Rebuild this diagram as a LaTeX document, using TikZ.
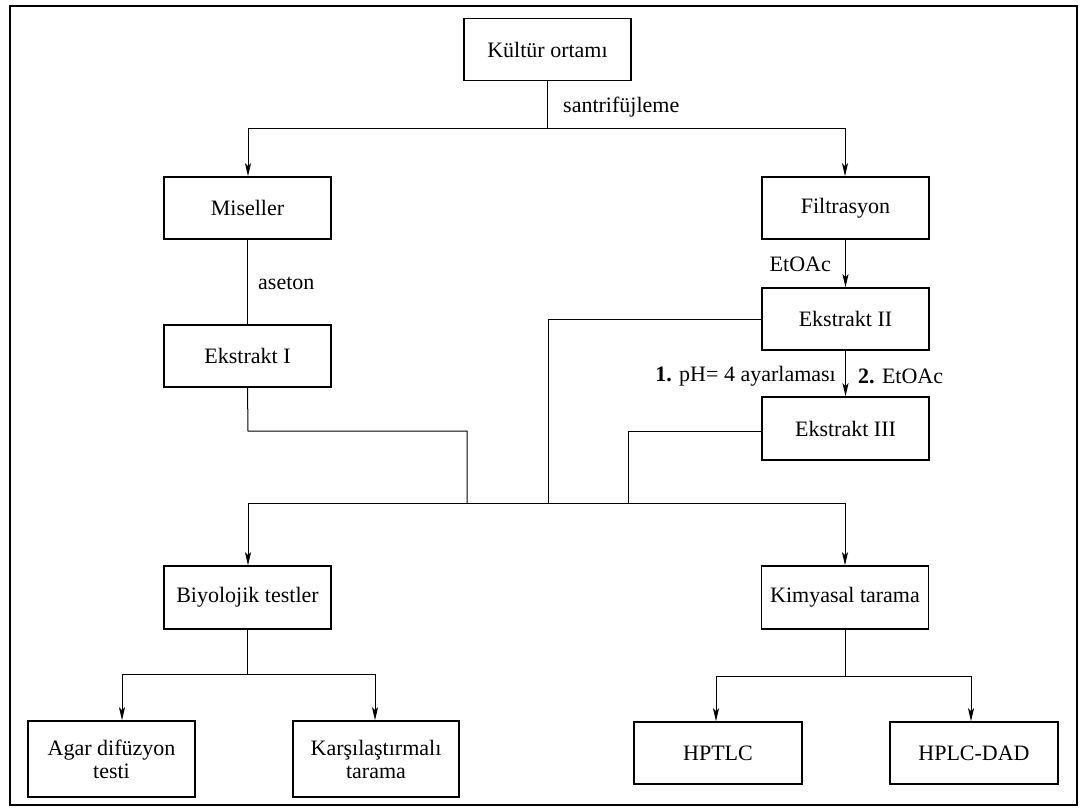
\documentclass[tikz,border=0pt]{standalone}
\usepackage{fontspec}
\setmainfont{Liberation Serif}
\usetikzlibrary{arrows.meta}
\begin{document}
\begin{tikzpicture}[x=1pt,y=-1pt,
  box/.style={draw,line width=1.5pt,minimum width=167pt,minimum height=62pt,
    inner sep=0pt,align=center,font=\fontsize{22}{23}\selectfont},
  lbl/.style={inner sep=0pt,font=\fontsize{22}{24}\selectfont},
  conn/.style={line width=1pt},
  arr/.style={conn,-{Stealth[length=13pt,width=6pt,inset=3pt]}}]
\useasboundingbox (0,0) rectangle (1086,809);
\draw[line width=2pt] (10,6) rectangle (1077,805);

% boxes
\node[box] (kultur) at (547.5,49.5) {Kültür ortamı};
\node[box] (misel) at (247.5,208) {Miseller};
\node[box] (filt) at (845.5,208) {Filtrasyon};
\node[box] (ek1) at (247.5,356) {Ekstrakt I};
\node[box] (ek2) at (845.5,319) {Ekstrakt II};
\node[box,minimum height=63pt] (ek3) at (845.5,428.5) {Ekstrakt III};
\node[box,minimum height=63pt] (bio) at (247.5,597.5) {Biyolojik testler};
\node[box,minimum height=63pt] (kim) at (845,597.5) {Kimyasal tarama};
\node[box,minimum height=76pt] (agar) at (111.5,759) {Agar difüzyon\\testi};
\node[box,minimum width=166pt,minimum height=76pt] (kars) at (376,759) {Karşılaştırmalı\\tarama};
\node[box,minimum width=168pt] (hptlc) at (718,753) {HPTLC};
\node[box,minimum width=168pt] (hplc) at (974,753) {HPLC-DAD};

% junction points
\coordinate (s1) at (547.5,128);
\coordinate (sL) at (248,128);
\coordinate (sR) at (845,128);
\coordinate (e1a) at (248,431);
\coordinate (e1b) at (467,431);
\coordinate (e2a) at (548,319);
\coordinate (e3a) at (628,431);
\coordinate (mL) at (248,503);
\coordinate (mR) at (845,503);
\coordinate (bL) at (122,674);
\coordinate (bR) at (375,674);
\coordinate (kL) at (716,676);
\coordinate (kR) at (971,676);

% centrifugation split
\draw[conn] (kultur.south) -- (s1);
\draw[conn] (sL) -- (sR);
\draw[arr] (sL) -- (sL |- misel.north);
\draw[arr] (sR) -- (sR |- filt.north);
\node[lbl,anchor=west] (santri) at (563,107) {santrifüjleme};

% left branch
\draw[conn] (misel.south) -- (ek1.north);
\node[lbl,anchor=west] (aseton) at (258,283) {aseton};

% right branch
\draw[arr] (filt.south) -- (ek2.north);
\node[lbl,anchor=east] (etoac1) at (831,264) {EtOAc};
\draw[arr] (ek2.south) -- (ek3.north);
\node[lbl,anchor=east] (ph) at (836,376) {\textbf{1.} pH= 4 ayarlaması};
\node[lbl,anchor=west] (etoac2) at (858,376) {\textbf{2.} EtOAc};

% extracts merge
\draw[conn] (ek1.south) -- (e1a) -- (e1b) -- (e1b |- mL);
\draw[conn] (ek2.west) -- (e2a) -- (e2a |- mL);
\draw[conn] (ek3.west |- e3a) -- (e3a) -- (e3a |- mL);
\draw[conn] (mL) -- (mR);
\draw[arr] (mL) -- (mL |- bio.north);
\draw[arr] (mR) -- (mR |- kim.north);

% biological tests
\draw[conn] (bio.south) -- (bio.south |- bL);
\draw[conn] (bL) -- (bR);
\draw[arr] (bL) -- (bL |- agar.north);
\draw[arr] (bR) -- (bR |- kars.north);

% chemical screening
\draw[conn] (kim.south) -- (kim.south |- kL);
\draw[conn] (kL) -- (kR);
\draw[arr] (kL) -- (kL |- hptlc.north);
\draw[arr] (kR) -- (kR |- hplc.north);
\end{tikzpicture}
\end{document}
